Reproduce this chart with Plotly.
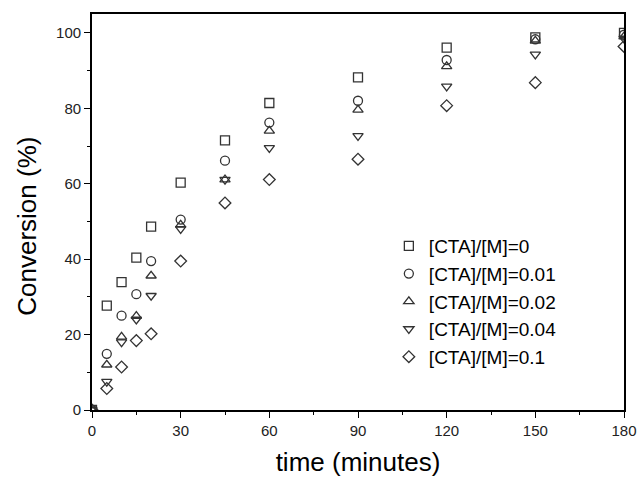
import plotly.graph_objects as go

time_min = [0, 5, 10, 15, 20, 30, 45, 60, 90, 120, 150, 180]
conv_0 = [0, 27.7, 33.9, 40.4, 48.6, 60.3, 71.5, 81.4, 88.2, 96.1, 98.8, 100.0]
conv_001 = [0, 14.9, 25.0, 30.7, 39.5, 50.5, 66.1, 76.2, 82.0, 92.8, 98.3, 99.5]
conv_002 = [0, 12.0, 19.4, 24.9, 35.6, 49.1, 61.1, 74.0, 79.6, 91.1, 97.9, 99.0]
conv_004 = [0, 7.5, 18.0, 24.0, 30.3, 48.0, 61.1, 69.5, 72.7, 85.8, 94.3, 98.5]
conv_01 = [0, 5.7, 11.4, 18.4, 20.2, 39.5, 54.9, 61.1, 66.5, 80.7, 86.8, 96.4]

series = [
    ("[CTA]/[M]=0", conv_0, "square-open"),
    ("[CTA]/[M]=0.01", conv_001, "circle-open"),
    ("[CTA]/[M]=0.02", conv_002, "triangle-up-open"),
    ("[CTA]/[M]=0.04", conv_004, "triangle-down-open"),
    ("[CTA]/[M]=0.1", conv_01, "diamond-open"),
]

FONT = "Arial, 'Liberation Sans', sans-serif"
fig = go.Figure()
for name, ys, sym in series:
    fig.add_trace(go.Scatter(
        x=time_min, y=ys, mode="markers", name=name,
        marker=dict(symbol=sym, size=9, color="#333333", line=dict(width=1.3, color="#333333")),
    ))

axis_common = dict(
    showline=True, linecolor="black", linewidth=1.8, mirror=True,
    ticks="outside", ticklen=6, tickwidth=1.2, tickcolor="black",
    showgrid=False, zeroline=False, automargin=False,
    tickfont=dict(family=FONT, size=15, color="#222222"),
)

fig.update_xaxes(
    range=[0, 180], tickvals=[0, 30, 60, 90, 120, 150, 180],
    minor=dict(ticks="outside", ticklen=3, tickwidth=1.2, tickcolor="black", dtick=15, tick0=0, showgrid=False),
    title=dict(text="time (minutes)", font=dict(family=FONT, size=26, color="black"), standoff=15),
    **axis_common,
)
fig.update_yaxes(
    range=[0, 105], tickvals=[0, 20, 40, 60, 80, 100],
    minor=dict(ticks="outside", ticklen=3, tickwidth=1.2, tickcolor="black", dtick=10, tick0=0, showgrid=False),
    **axis_common,
)

fig.add_annotation(
    text="Conversion (%)", textangle=-90, showarrow=False,
    xref="paper", yref="paper", x=-0.122, y=0.463, xanchor="center", yanchor="middle",
    font=dict(family=FONT, size=26, color="black"),
)

fig.update_layout(
    width=638, height=480,
    margin=dict(l=92, r=14, t=14, b=70),
    paper_bgcolor="white", plot_bgcolor="white",
    showlegend=True,
    legend=dict(
        x=0.558, y=0.462, xanchor="left", yanchor="top",
        font=dict(family=FONT, size=19, color="black"),
        bgcolor="rgba(0,0,0,0)", borderwidth=0,
    ),
)

fig.write_html("out.html")
